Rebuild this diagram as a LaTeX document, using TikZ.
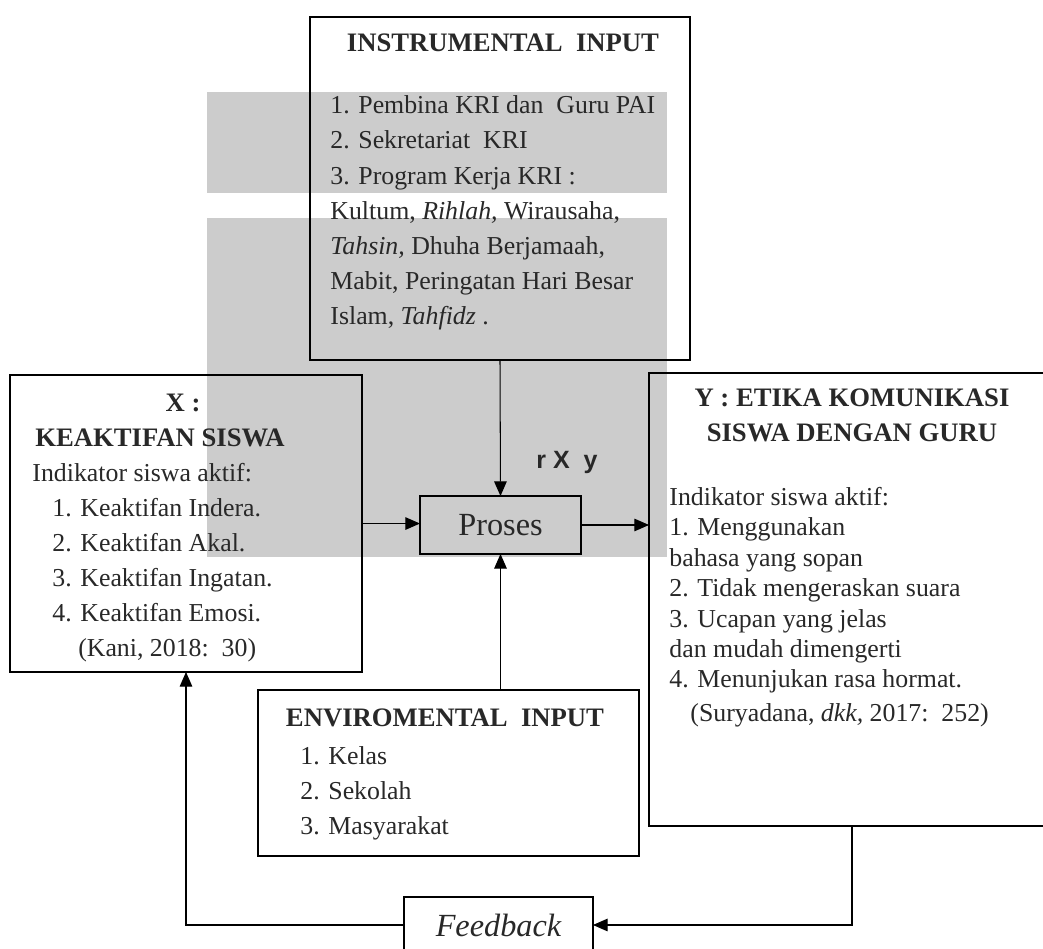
\documentclass[tikz,border=0pt]{standalone}
\usepackage{fontspec}
\setmainfont{Liberation Serif}
\newfontfamily\arialfont{Liberation Sans}
\usetikzlibrary{arrows.meta}
\definecolor{wmgray}{RGB}{204,204,204}
\definecolor{ink}{RGB}{40,40,40}

\begin{document}
\begin{tikzpicture}[x=0.48pt,y=-0.48pt,
    box/.style={draw,inner sep=0pt,outer sep=0pt,line width=0.6pt},
    thickbox/.style={box,line width=1.1pt},
    arr/.style={-{Triangle[length=7pt,width=6pt]},line width=0.5pt},
    lst/.style={align=left,anchor=base west,text=ink,inner sep=0pt,
      font=\fontsize{12.4}{16.9}\selectfont},
    ttl/.style={anchor=base,text=ink,inner sep=0pt,
      font=\fontsize{12.8}{16.9}\selectfont\bfseries}]
  \useasboundingbox (0,0) rectangle (1043,949);
  \clip (0,0) rectangle (1043,949);
  % grey shading behind the middle
  \fill[wmgray] (207,92) rectangle (667,193);
  \fill[wmgray] (207,218) rectangle (667,557);
  % boxes
  \node[box,anchor=north west,minimum width=182.4pt,minimum height=164.6pt] (inst) at (310,17) {};
  \node[thickbox,anchor=north west,minimum width=169pt,minimum height=142.6pt] (xbox) at (10,375) {};
  \node[thickbox,anchor=north west,minimum width=205pt,minimum height=217.4pt] (ybox) at (649,373) {};
  \node[box,anchor=north west,minimum width=182.9pt,minimum height=79.7pt] (env) at (258,690) {};
  \node[box,minimum width=77.3pt,minimum height=27.8pt,text=ink,
    font=\fontsize{15.5}{18}\selectfont] (proses) at (500.5,525) {Proses};
  \node[box,minimum width=90.7pt,minimum height=26.9pt,text=ink,
    font=\fontsize{15.5}{18}\selectfont\itshape] (fb) at (498.5,925) {Feedback};
  \node[text=ink,font=\arialfont\fontsize{12}{14}\selectfont\bfseries] (rxy) at (567,463) {r X~~y};
  % texts (lists sit on the baseline of their last line)
  \node[ttl] (insttitle) at (503,52) {INSTRUMENTAL~~INPUT};
  \node[lst] (instlist) at (330,325) {1. Pembina KRI dan~~Guru PAI\\
    2. Sekretariat~~KRI\\
    3. Program Kerja KRI :\\
    Kultum, \textit{Rihlah,} Wirausaha,\\
    \textit{Tahsin,} Dhuha Berjamaah,\\
    Mabit, Peringatan Hari Besar\\
    Islam, \textit{Tahfidz} .};
  \node[ttl] (xtitle) at (183,412) {X :};
  \node[ttl,anchor=base west] (xname) at (35,447) {KEAKTIFAN SISWA};
  \node[lst,font=\fontsize{12.4}{16.8}\selectfont] (xlist) at (32,657) {Indikator siswa aktif:\\
    \hspace{9.6pt}1. Keaktifan Indera.\\
    \hspace{9.6pt}2. Keaktifan Akal.\\
    \hspace{9.6pt}3. Keaktifan Ingatan.\\
    \hspace{9.6pt}4. Keaktifan Emosi.\\
    \hspace{22pt}(Kani, 2018:~~30)};
  \node[ttl] (ytitle) at (852,407) {Y : ETIKA KOMUNIKASI};
  \node[ttl] (yname) at (852,442) {SISWA DENGAN GURU};
  \node[lst,font=\fontsize{12.4}{14.6}\selectfont] (ylist) at (669,688) {Indikator siswa aktif:\\
    1. Menggunakan\\
    bahasa yang sopan\\
    2. Tidak mengeraskan suara\\
    3. Ucapan yang jelas\\
    dan mudah dimengerti\\
    4. Menunjukan rasa hormat.};
  \node[lst] (ycite) at (690,722) {(Suryadana, \textit{dkk,} 2017:~~252)};
  \node[ttl] (envtitle) at (445,727) {ENVIROMENTAL~~INPUT};
  \node[lst,font=\fontsize{12.4}{16.8}\selectfont] (envlist) at (300,835) {1. Kelas\\
    2. Sekolah\\
    3. Masyarakat};
  % connectors
  \coordinate (yfoot) at (852,826);
  \coordinate (xfoot) at (186,672);
  \draw[arr] (inst.south) -- (proses.north);
  \draw[arr] (proses.south |- env.north) -- (proses.south);
  \draw[arr] (xbox.east) -- (xbox.east -| proses.west);
  \draw[arr] (proses.east) -- (proses.east -| ybox.west);
  \draw[arr] (yfoot) |- (fb.east);
  \draw[arr] (fb.west) -| (xfoot);
\end{tikzpicture}
\end{document}
